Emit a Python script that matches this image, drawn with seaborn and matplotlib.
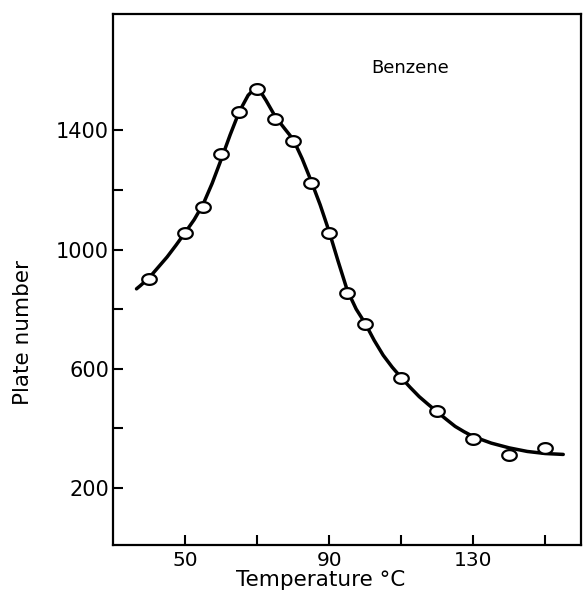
import numpy as np
import pandas as pd
import matplotlib
matplotlib.use("Agg")
import matplotlib.pyplot as plt
from matplotlib.path import Path
import seaborn as sns

# measured points
temp_points = [40, 50, 55, 60, 65, 70, 75, 80, 85, 90, 95, 100, 110, 120, 130, 140, 150]
plate_points = [900, 1054, 1143, 1320, 1463, 1539, 1437, 1366, 1223, 1054, 853, 750, 568, 459, 363, 311, 335]

# fitted curve
temp_curve = [36.5, 37.5, 40, 42.5, 45, 47.5, 50, 52.5, 55, 57.5, 60, 62.5, 65, 67.5, 70,
              72.5, 75, 77.5, 80, 82.5, 85, 87.5, 90, 92.5, 95, 97.5, 100, 102.5, 105,
              107.5, 110, 112.5, 115, 117.5, 120, 122.5, 125, 127.5, 130, 135, 140, 145, 150, 155]
plate_curve = [868, 878, 905, 940, 975, 1015, 1057, 1100, 1152, 1222, 1302, 1385, 1462, 1518, 1548,
               1500, 1447, 1408, 1370, 1305, 1230, 1150, 1060, 960, 864, 800, 752, 695, 645,
               605, 570, 537, 506, 480, 455, 430, 406, 388, 372, 350, 334, 322, 315, 312]

y_major = [200, 600, 1000, 1400]
y_minor = [400, 800, 1200]
x_ticks = [50, 70, 90, 110, 130, 150]
x_tick_labels = ["50", "", "90", "", "130", ""]

sns.set_theme(style="white")
plt.rcParams['font.family'] = ['DejaVu Sans']

fig = plt.figure(figsize=(5.83, 5.93), dpi=100)
ax = fig.add_axes([0.194, 0.081, 0.803, 0.895])

df_curve = pd.DataFrame({"T": temp_curve, "N": plate_curve})
df_pts = pd.DataFrame({"T": temp_points, "N": plate_points})

sns.lineplot(data=df_curve, x="T", y="N", ax=ax, color="black", linewidth=2.5, sort=False)

t = np.linspace(0, 2 * np.pi, 40)
ellipse = Path(np.column_stack([1.35 * np.cos(t), np.sin(t)]), closed=True)
sns.scatterplot(data=df_pts, x="T", y="N", ax=ax, marker=ellipse, s=110,
                facecolor="white", edgecolor="black", linewidth=1.6, zorder=5)

ax.set_xlim(30, 160)
ax.set_ylim(8, 1790)

ax.set_yticks(y_major)
ax.set_yticks(y_minor, minor=True)
ax.set_xticks(x_ticks)
ax.set_xticklabels(x_tick_labels)

ax.tick_params(axis="both", which="both", direction="in", length=7, width=1.5,
               colors="black", labelsize=15, pad=3, left=True, bottom=True)
ax.tick_params(axis="x", pad=4, labelsize=14.5)

for s in ax.spines.values():
    s.set_color("black")
    s.set_linewidth(1.6)

ax.set_xlabel("Temperature °C", fontsize=15.5, color="black")
ax.xaxis.set_label_coords(0.443, -0.048)
ax.set_ylabel("Plate number", fontsize=15.5, color="black")
ax.yaxis.set_label_coords(-0.172, 0.40)

ax.text(112.5, 1608, "Benzene", fontsize=13, ha="center", va="center", color="black")

fig.savefig("out.png", dpi=100, facecolor="white")
